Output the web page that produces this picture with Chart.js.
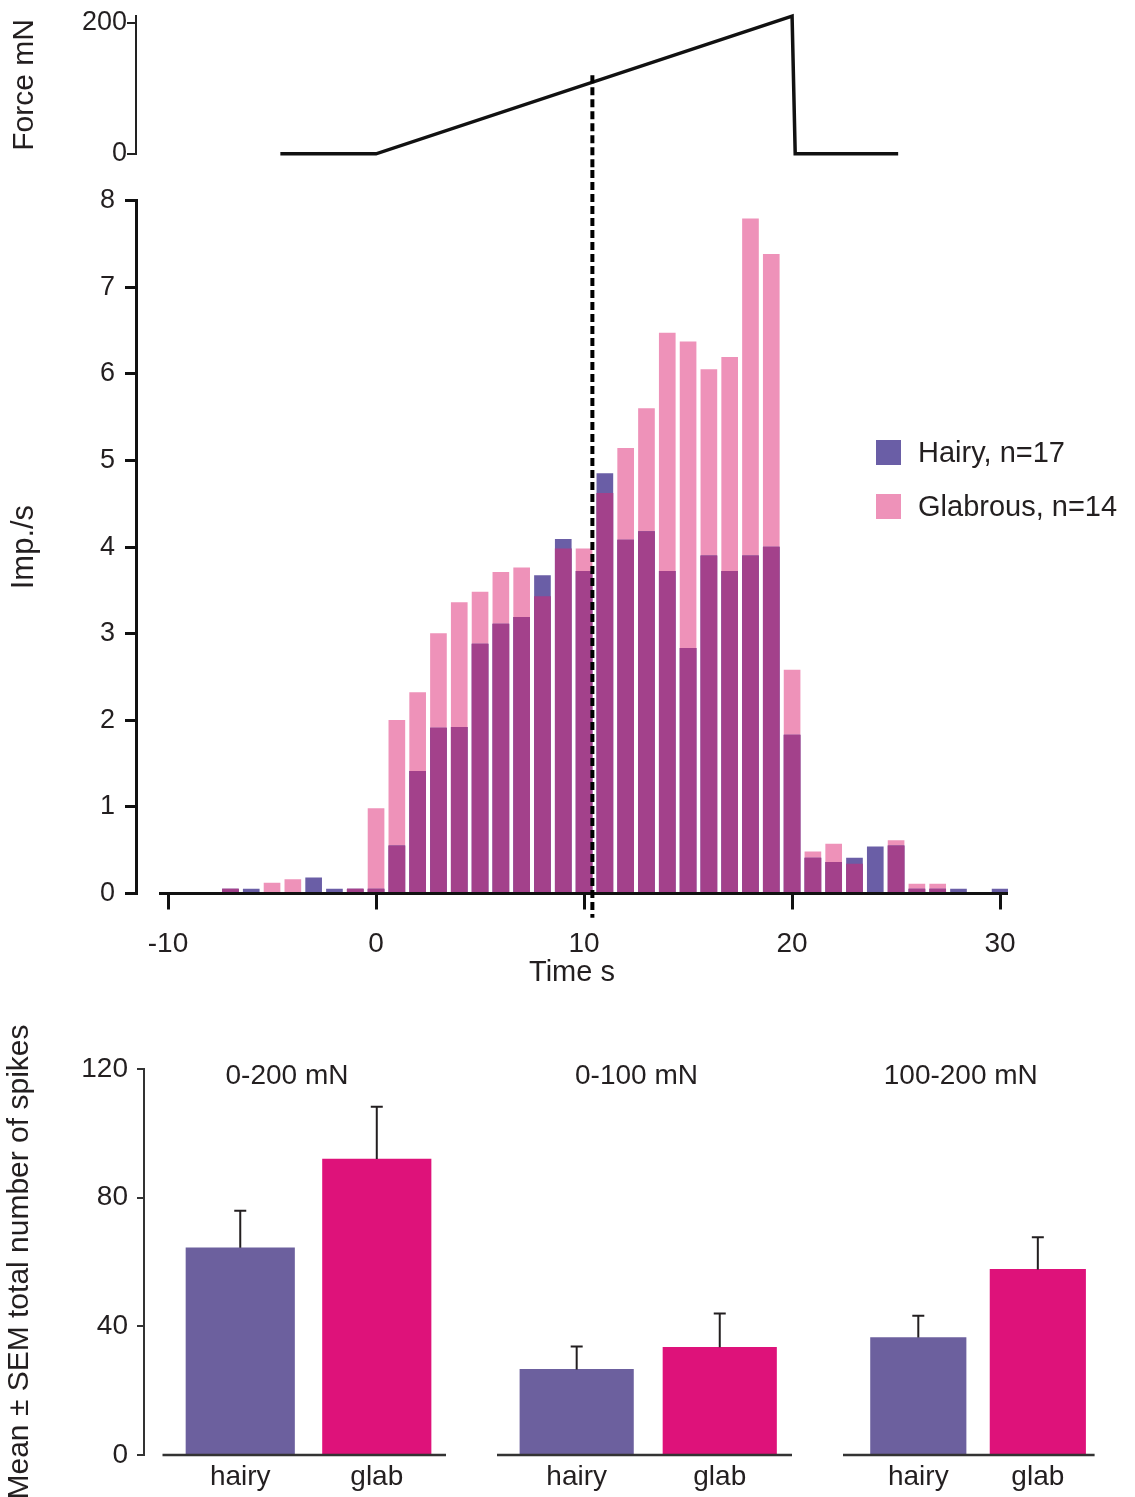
<!DOCTYPE html>
<html>
<head>
<meta charset="utf-8">
<title>Force ramp response, hairy vs glabrous</title>
<script src="https://cdn.jsdelivr.net/npm/chart.js@4.4.1/dist/chart.umd.min.js"></script>
<style>
    html, body { margin: 0; padding: 0; background: #fff; }
    body {
        width: 1135px; height: 1497px; position: relative; overflow: hidden;
        font-family: 'Liberation Sans', Arial, sans-serif; color: #231f20;
    }
    canvas { position: absolute; }
    #legend { position: absolute; left: 876px; top: 439px; }
    .legend-item { display: flex; align-items: center; height: 26px; margin-bottom: 28px; font-size: 29px; white-space: nowrap; }
    .legend-box { width: 25px; height: 25px; margin-right: 17px; }
</style>
</head>
<body>
<canvas id="force" width="1135" height="170" style="left:0;top:0"></canvas>
<canvas id="histogram" width="1135" height="830" style="left:0;top:170px"></canvas>
<canvas id="panel1" width="460" height="497" style="left:0;top:1000px"></canvas>
<canvas id="panel2" width="340" height="497" style="left:470px;top:1000px"></canvas>
<canvas id="panel3" width="305" height="497" style="left:830px;top:1000px"></canvas>
<div id="legend"></div>

<script>
// ---------------- data ----------------
// force ramp (top trace)
const forceTime = [-4.6, 0, 20, 20.15, 25.1];
const forceMN = [0, 0, 210, 0, 0];
const forceTicks = [0, 200];

// histogram, 1 s bins
const timeBins = [-7, -6, -5, -4, -3, -2, -1, 0, 1, 2, 3, 4, 5, 6, 7, 8, 9, 10, 11, 12,
    13, 14, 15, 16, 17, 18, 19, 20, 21, 22, 23, 24, 25, 26, 27, 28, 29, 30];
const hairyRate = [0.05, 0.05, 0, 0, 0.18, 0.05, 0.05, 0.05, 0.55, 1.41, 1.91, 1.92, 2.88, 3.11, 3.19, 3.67, 4.09, 3.72, 4.85, 4.08,
    4.18, 3.72, 2.83, 3.90, 3.72, 3.90, 4.00, 1.83, 0.41, 0.36, 0.41, 0.54, 0.55, 0.05, 0.05, 0.05, 0, 0.05];
const glabrousRate = [0.05, 0, 0.12, 0.16, 0, 0, 0.05, 0.98, 2.00, 2.32, 3.00, 3.36, 3.48, 3.71, 3.76, 3.43, 3.98, 3.98, 4.62, 5.14,
    5.60, 6.47, 6.37, 6.05, 6.19, 7.79, 7.38, 2.58, 0.48, 0.57, 0.34, 0, 0.61, 0.11, 0.11, 0, 0, 0];
const seriesNames = ['Hairy, n=17', 'Glabrous, n=14'];
const timeTicks = [-10, 0, 10, 20, 30];
const rateTicks = [0, 1, 2, 3, 4, 5, 6, 7, 8];
const markerTime = 10.4;

// total spikes, mean and SEM
const panelTitles = ['0-200 mN', '0-100 mN', '100-200 mN'];
const groupLabels = ['hairy', 'glab'];
const hairyMean = [64.4, 26.6, 36.5];
const hairySem = [11.5, 7.1, 6.8];
const glabMean = [92.0, 33.5, 57.7];
const glabSem = [16.3, 10.5, 10.0];
const spikeTicks = [0, 40, 80, 120];

// ---------------- style ----------------
const HAIRY = '#6a5ea6';
const GLAB = '#ee92b9';
const BOTH = '#a3418b';
const HAIRY_BAR = '#6c609e';
const GLAB_BAR = '#de127a';
const INK = '#231f20';

Chart.defaults.font.family = "'Liberation Sans', Arial, sans-serif";
Chart.defaults.color = INK;
Chart.defaults.animation = false;
Chart.defaults.events = [];
Chart.defaults.plugins.legend.display = false;
Chart.defaults.plugins.tooltip.enabled = false;

const X_MIN = -11.54;
const X_MAX = 30.38;

function fixedTicks(list) {
    return (scale) => { scale.ticks = list.map(v => ({ value: v })); };
}

// x axis line that may start a little right of the y axis
const baselinePlugin = {
    id: 'baseline',
    afterDatasetsDraw(chart, args, opts) {
        if (!opts.width) return;
        const { ctx, chartArea } = chart;
        const y = chart.scales.y.getPixelForValue(0);
        ctx.save();
        ctx.strokeStyle = opts.color;
        ctx.lineWidth = opts.width;
        ctx.beginPath();
        ctx.moveTo(chartArea.left + opts.inset, y);
        ctx.lineTo(chartArea.right, y);
        ctx.stroke();
        ctx.restore();
    }
};

// dashed time marker
const markerPlugin = {
    id: 'marker',
    afterDatasetsDraw(chart, args, opts) {
        if (opts.time === undefined) return;
        const { ctx } = chart;
        const x = chart.scales.x.getPixelForValue(opts.time);
        const y1 = opts.from === undefined ? 0 : chart.scales.y.getPixelForValue(opts.from);
        const y2 = opts.to === undefined ? chart.height : chart.scales.y.getPixelForValue(opts.to);
        ctx.save();
        ctx.strokeStyle = '#000';
        ctx.lineWidth = 4;
        ctx.setLineDash([8, 4]);
        ctx.beginPath();
        ctx.moveTo(x, y1);
        ctx.lineTo(x, y2);
        ctx.stroke();
        ctx.restore();
    }
};

// SEM whiskers on top of bars
const errorBarPlugin = {
    id: 'errorBars',
    afterDatasetsDraw(chart) {
        const { ctx } = chart;
        ctx.save();
        ctx.strokeStyle = INK;
        ctx.lineWidth = 2;
        chart.data.datasets.forEach((ds, i) => {
            if (!ds.sem) return;
            chart.getDatasetMeta(i).data.forEach((bar, j) => {
                const top = chart.scales.y.getPixelForValue(ds.data[j].y + ds.sem[j]);
                ctx.beginPath();
                ctx.moveTo(bar.x, bar.y);
                ctx.lineTo(bar.x, top);
                ctx.moveTo(bar.x - 6, top);
                ctx.lineTo(bar.x + 6, top);
                ctx.stroke();
            });
        });
        ctx.restore();
    }
};

// panel heading inside the plot area
const panelTitlePlugin = {
    id: 'panelTitle',
    afterDraw(chart, args, opts) {
        if (!opts.text) return;
        const { ctx, chartArea } = chart;
        ctx.save();
        ctx.font = "28px 'Liberation Sans', Arial, sans-serif";
        ctx.fillStyle = INK;
        ctx.textAlign = 'center';
        ctx.textBaseline = 'middle';
        ctx.fillText(opts.text, (chartArea.left + chartArea.right) / 2 - 8, chartArea.top + 7);
        ctx.restore();
    }
};

//---------------------------------Force trace---------------------------------//
new Chart(document.getElementById('force'), {
    type: 'line',
    data: {
        datasets: [{
            data: forceTime.map((t, i) => ({ x: t, y: forceMN[i] })),
            borderColor: '#111',
            borderWidth: 3.5,
            pointRadius: 0,
            tension: 0,
            clip: false
        }]
    },
    options: {
        responsive: false,
        layout: { padding: { top: 15.4, right: 127, bottom: 16, left: 0 } },
        scales: {
            x: { type: 'linear', min: X_MIN, max: X_MAX, display: false },
            y: {
                min: 0,
                max: 210,
                afterBuildTicks: fixedTicks(forceTicks),
                afterFit: (scale) => { scale.width = 136; },
                ticks: { font: { size: 27 }, padding: 0 },
                grid: { drawOnChartArea: false, tickLength: 9, lineWidth: 2, color: '#222' },
                border: { width: 2, color: '#222' },
                title: { display: true, text: 'Force mN', font: { size: 30 }, padding: { top: 7, bottom: 0 } }
            }
        },
        plugins: {
            marker: { time: markerTime, from: 120 }
        }
    },
    plugins: [markerPlugin]
});

//---------------------------------Histogram---------------------------------//
const overlapRate = hairyRate.map((v, i) => Math.min(v, glabrousRate[i]));
const toPoints = (arr) => arr.map((v, i) => ({ x: timeBins[i], y: v }));

new Chart(document.getElementById('histogram'), {
    type: 'bar',
    data: {
        datasets: [
            { label: 'both', data: toPoints(overlapRate), backgroundColor: BOTH, order: 0 },
            { label: seriesNames[0], data: toPoints(hairyRate), backgroundColor: HAIRY, order: 1 },
            { label: seriesNames[1], data: toPoints(glabrousRate), backgroundColor: GLAB, order: 2 }
        ]
    },
    options: {
        responsive: false,
        datasets: { bar: { grouped: false, barThickness: 16, borderWidth: 0 } },
        layout: { padding: { top: 30.7, right: 127, bottom: 0, left: 0 } },
        scales: {
            x: {
                type: 'linear',
                min: X_MIN,
                max: X_MAX,
                offset: false,
                afterBuildTicks: fixedTicks(timeTicks),
                afterFit: (scale) => { scale.height = 106.5; },
                ticks: { font: { size: 28 }, padding: 18, maxRotation: 0, autoSkip: false },
                grid: { offset: false, drawOnChartArea: false, tickLength: 16, lineWidth: 3, color: '#111' },
                border: { display: false },
                title: { display: true, text: 'Time s', font: { size: 29 }, padding: { top: 0, bottom: 10 } }
            },
            y: {
                min: 0,
                max: 8,
                afterBuildTicks: fixedTicks(rateTicks),
                afterFit: (scale) => { scale.width = 136; },
                ticks: { font: { size: 27 }, padding: 10 },
                grid: { drawOnChartArea: false, tickLength: 11, lineWidth: 3, color: '#111' },
                border: { width: 3, color: '#111' },
                title: { display: true, text: 'Imp./s', font: { size: 31 }, padding: { top: 6, bottom: 0 } }
            }
        },
        plugins: {
            baseline: { inset: 23, width: 3, color: '#111' },
            marker: { time: markerTime, to: -0.28 }
        }
    },
    plugins: [baselinePlugin, markerPlugin]
});

// legend
const legendEl = document.getElementById('legend');
[HAIRY, GLAB].forEach((color, i) => {
    const item = document.createElement('div');
    item.className = 'legend-item';
    item.innerHTML = `<span class="legend-box" style="background:${color}"></span><span>${seriesNames[i]}</span>`;
    legendEl.appendChild(item);
});

//---------------------------------Total spikes panels---------------------------------//
const panelLayout = [
    { id: 'panel1', min: -0.705, max: 1.507, bar: 108.5, pad: { top: 69, right: 14, bottom: 0, left: 0 }, inset: 18.5, axis: true },
    { id: 'panel2', min: -0.557, max: 1.505, bar: 113.5, pad: { top: 69, right: 18, bottom: 0, left: 27 }, inset: 0, axis: false },
    { id: 'panel3', min: -0.63, max: 1.475, bar: 95.5, pad: { top: 69, right: 40.4, bottom: 0, left: 13 }, inset: 0, axis: false }
];

panelLayout.forEach((p, k) => {
    new Chart(document.getElementById(p.id), {
        type: 'bar',
        data: {
            datasets: [
                { label: groupLabels[0], data: [{ x: 0, y: hairyMean[k] }], sem: [hairySem[k]], backgroundColor: HAIRY_BAR },
                { label: groupLabels[1], data: [{ x: 1, y: glabMean[k] }], sem: [glabSem[k]], backgroundColor: GLAB_BAR }
            ]
        },
        options: {
            responsive: false,
            datasets: { bar: { grouped: false, barThickness: p.bar, borderWidth: 0 } },
            layout: { padding: p.pad },
            scales: {
                x: {
                    type: 'linear',
                    min: p.min,
                    max: p.max,
                    offset: false,
                    afterBuildTicks: fixedTicks(groupLabels.map((_, i) => i)),
                    afterFit: (scale) => { scale.height = 42; },
                    ticks: { callback: (v) => groupLabels[v], font: { size: 28 }, padding: 5, maxRotation: 0, autoSkip: false },
                    grid: { offset: false, drawOnChartArea: false, drawTicks: false },
                    border: { display: false }
                },
                y: {
                    display: p.axis,
                    min: 0,
                    max: 120,
                    afterBuildTicks: fixedTicks(spikeTicks),
                    afterFit: (scale) => { scale.width = p.axis ? 144 : 0; },
                    ticks: { font: { size: 28 }, padding: 9 },
                    grid: { drawOnChartArea: false, tickLength: 7, lineWidth: 2, color: '#333' },
                    border: { width: 2, color: '#333' },
                    title: {
                        display: true,
                        text: 'Mean ± SEM total number of spikes',
                        font: { size: 30 },
                        padding: { top: 2, bottom: 0 }
                    }
                }
            },
            plugins: {
                baseline: { inset: p.inset, width: 2.5, color: '#333' },
                panelTitle: { text: panelTitles[k] }
            }
        },
        plugins: [baselinePlugin, errorBarPlugin, panelTitlePlugin]
    });
});
</script>
</body>
</html>
